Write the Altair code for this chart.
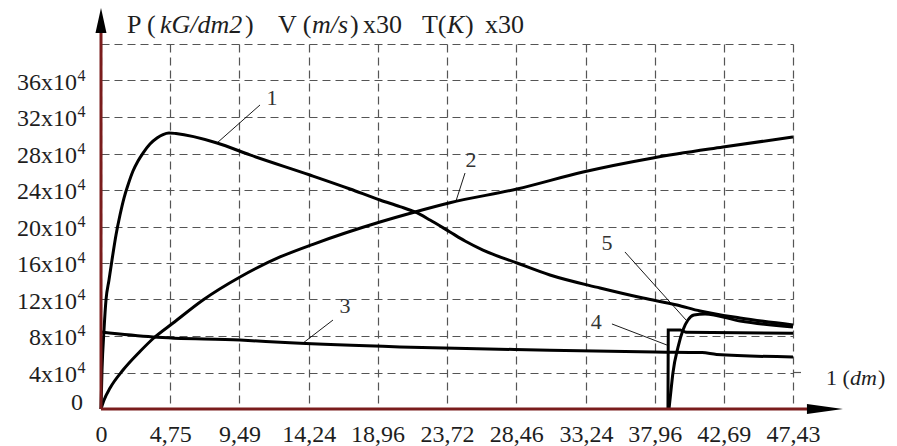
import altair as alt
import pandas as pd

# ---------------- data (x in dm, y in units of 10^4) ----------------
c1_x = [0, 0.069, 0.206, 0.343, 0.548, 0.754, 1.028, 1.302, 1.576, 1.850, 2.193, 2.536,
        2.879, 3.358, 3.838, 4.249, 4.660, 5.140, 7.951, 10.21, 14.32, 17.07, 19.12, 20.49,
        21.52, 22.55, 23.92, 24.95, 26.18, 28.51, 30.77, 34.20, 37.15, 39.48, 41.06, 43.80, 47.43]
c1_y = [0, 4.27, 8.66, 11.95, 14.14, 16.33, 19.07, 21.26, 23.12, 24.55, 26.08, 27.18,
        28.05, 29.04, 29.70, 30.08, 30.25, 30.19, 29.15, 27.84, 25.64, 24.11, 22.90, 22.18,
        21.59, 20.71, 19.40, 18.41, 17.42, 16.0, 14.68, 13.26, 12.16, 11.40, 10.74, 9.97, 9.21]

c2_x = [0, 0.21, 0.62, 1.51, 2.67, 3.56, 4.94, 6.99, 9.53, 12.27, 14.53, 19.12, 21.52,
        23.92, 28.51, 33.04, 37.83, 42.63, 47.43]
c2_y = [0, 0.99, 2.30, 4.27, 6.3, 7.7, 9.42, 11.95, 14.47, 16.66, 18.05, 20.49, 21.59,
        22.6, 24.11, 25.97, 27.51, 28.71, 29.81]

c3_x = [0, 3.56, 9.53, 12.95, 20.49, 30.77, 37.97, 41.2, 42.2, 47.43]
c3_y = [8.44, 7.9, 7.55, 7.25, 6.8, 6.45, 6.25, 6.18, 5.98, 5.7]

c4_x = [38.86, 38.88, 39.7, 40.1, 47.43]
c4_y = [0, 8.66, 8.66, 8.4, 8.3]

c5_x = [38.93, 39.07, 39.20, 39.55, 39.89, 40.23, 40.64, 41.40, 43.80, 47.43]
c5_y = [0, 2.08, 3.95, 6.79, 8.66, 9.75, 10.30, 10.41, 9.64, 8.99]

X_TICKS = [0, 4.75, 9.49, 14.24, 18.96, 23.72, 28.46, 33.24, 37.96, 42.69, 47.43]
Y_TICKS = [0, 4, 8, 12, 16, 20, 24, 28, 32, 36, 40]
Y_LABELS = [4, 8, 12, 16, 20, 24, 28, 32, 36]

# curve labels and leader lines (data coordinates)
lab_text = ["1", "2", "3", "4", "5"]
lab_x = [11.72, 25.36, 16.72, 33.95, 34.68]
lab_y = [34.08, 27.29, 11.29, 9.55, 18.19]
lead_x1 = [10.90, 24.95, 15.90, 35.02, 35.91]
lead_y1 = [33.32, 25.86, 9.75, 9.32, 17.21]
lead_x2 = [7.95, 24.33, 13.85, 38.79, 40.10]
lead_y2 = [29.15, 22.79, 7.23, 7.01, 9.75]

# axis title pieces
title_norm = ["P (", ")", "V (", ")", "x30", "T(", ")", "x30"]
title_norm_x = [1.78, 9.87, 12.13, 17.07, 17.96, 22.00, 24.95, 26.32]
title_ital = ["kG/dm2", "m/s", "K"]
title_ital_x = [4.04, 14.46, 23.72]
TITLE_Y = 41.2

xlab_norm = ["1 (", ")"]
xlab_norm_x = [49.69, 53.26]
xlab_ital = ["dm"]
xlab_ital_x = [51.34]
XLAB_Y = 2.63

# ---------------- build tables ----------------
rows = []
for name, xs_, ys_ in [("1", c1_x, c1_y), ("2", c2_x, c2_y), ("3", c3_x, c3_y), ("5", c5_x, c5_y)]:
    for i, (a, b) in enumerate(zip(xs_, ys_)):
        rows.append({"curve": name, "i": i, "x": a, "y": b})
smooth_df = pd.DataFrame(rows)
c4_df = pd.DataFrame({"x": c4_x, "y": c4_y, "i": list(range(len(c4_x)))})

FONT = "Liberation Serif"
TXT = "#1e1e1e"
RED = "#7a1c1c"

xs = alt.Scale(domain=[0, 47.43], nice=False, zero=False)
ys = alt.Scale(domain=[0, 40], nice=False, zero=False)

x_axis = alt.Axis(values=X_TICKS, title=None, grid=True, gridDash=[8, 5], gridColor="#555",
                  gridWidth=1.2, domain=False, ticks=False, labelFont=FONT, labelFontSize=24,
                  labelColor=TXT, labelPadding=13, labelOverlap=False, labelFlush=False,
                  labelBound=False,
                  labelExpr="datum.value == 0 ? '0' : replace(format(datum.value, '.2f'), '.', ',')")
y_axis = alt.Axis(values=Y_TICKS, title=None, grid=True, gridDash=[8, 5], gridColor="#555",
                  gridWidth=1.2, domain=False, ticks=False, labels=False)

X = alt.X("x:Q", scale=xs, axis=x_axis)
Y = alt.Y("y:Q", scale=ys, axis=y_axis)

curves = alt.Chart(smooth_df).mark_line(color="black", strokeWidth=3, interpolate="monotone").encode(
    x=X, y=Y, detail="curve:N", order="i:Q")
curve4 = alt.Chart(c4_df).mark_line(color="black", strokeWidth=3).encode(x=X, y=Y, order="i:Q")

ext = alt.Chart(pd.DataFrame({"x": [47.43], "x2": [48.11], "y": [4]})).mark_rule(
    color="#555", strokeWidth=1.2, strokeDash=[8, 5]).encode(x=X, x2="x2:Q", y=Y)

axes_df = pd.DataFrame({"x": [0, 0], "x2": [48.39, 0], "y": [0, 0], "y2": [0, 41.2]})
axes_lines = alt.Chart(axes_df).mark_rule(color=RED, strokeWidth=3).encode(
    x=X, x2="x2:Q", y=Y, y2="y2:Q")

arrow_x = alt.Chart(pd.DataFrame({"x": [49.62], "y": [0]})).mark_point(
    shape="M-1,-0.28L1,0L-1,0.28Z", filled=True, size=1296, color="black", opacity=1).encode(x=X, y=Y)
arrow_y = alt.Chart(pd.DataFrame({"x": [0], "y": [42.58]})).mark_point(
    shape="M-0.44,1L0,-1L0.44,1Z", filled=True, size=625, color="black", opacity=1).encode(x=X, y=Y)

# y tick labels as text: "NNx10" with superscript "4"
ylab_df = pd.DataFrame({"x": [-1.645] * len(Y_LABELS), "y": Y_LABELS,
                        "t": [f"{v}x10" for v in Y_LABELS]})
ysup_df = pd.DataFrame({"x": [-1.61] * len(Y_LABELS), "y": Y_LABELS, "t": ["4"] * len(Y_LABELS)})
yzero_df = pd.DataFrame({"x": [-1.23], "y": [0], "t": ["0"]})
ylab = alt.Chart(ylab_df).mark_text(font=FONT, fontSize=24, color=TXT, align="right",
                                    baseline="middle", dy=2).encode(x=X, y=Y, text="t:N")
ysup = alt.Chart(ysup_df).mark_text(font=FONT, fontSize=16, color=TXT, align="left",
                                    baseline="middle", dy=-5).encode(x=X, y=Y, text="t:N")
yzero = alt.Chart(yzero_df).mark_text(font=FONT, fontSize=24, color=TXT, align="right",
                                      baseline="middle", dy=-6).encode(x=X, y=Y, text="t:N")

lead_df = pd.DataFrame({"x": lead_x1, "y": lead_y1, "x2": lead_x2, "y2": lead_y2})
leaders = alt.Chart(lead_df).mark_rule(color="black", strokeWidth=0.9).encode(
    x=X, y=Y, x2="x2:Q", y2="y2:Q")

lab_df = pd.DataFrame({"x": lab_x, "y": lab_y, "t": lab_text})
labels = alt.Chart(lab_df).mark_text(font=FONT, fontSize=22, color="#333", align="center",
                                     baseline="middle").encode(x=X, y=Y, text="t:N")

tn_df = pd.DataFrame({"x": title_norm_x, "y": [TITLE_Y] * len(title_norm_x), "t": title_norm})
ti_df = pd.DataFrame({"x": title_ital_x, "y": [TITLE_Y] * len(title_ital_x), "t": title_ital})
title_n = alt.Chart(tn_df).mark_text(font=FONT, fontSize=26, color=TXT, align="left",
                                     baseline="alphabetic").encode(x=X, y=Y, text="t:N")
title_i = alt.Chart(ti_df).mark_text(font=FONT, fontSize=26, color=TXT, align="left",
                                     baseline="alphabetic", fontStyle="italic").encode(x=X, y=Y, text="t:N")

xn_df = pd.DataFrame({"x": xlab_norm_x, "y": [XLAB_Y] * len(xlab_norm_x), "t": xlab_norm})
xi_df = pd.DataFrame({"x": xlab_ital_x, "y": [XLAB_Y] * len(xlab_ital_x), "t": xlab_ital})
xlab_n = alt.Chart(xn_df).mark_text(font=FONT, fontSize=22, color=TXT, align="left",
                                    baseline="alphabetic").encode(x=X, y=Y, text="t:N")
xlab_i = alt.Chart(xi_df).mark_text(font=FONT, fontSize=22, color=TXT, align="left",
                                    baseline="alphabetic", fontStyle="italic").encode(x=X, y=Y, text="t:N")

chart = alt.layer(curves, curve4, ext, axes_lines, arrow_x, arrow_y, ylab, ysup, yzero,
                  leaders, labels, title_n, title_i, xlab_n, xlab_i).properties(
    width=692, height=365,
    autosize=alt.AutoSizeParams(type="none"),
    padding={"left": 93, "top": 36, "right": 96, "bottom": 37},
    background="white",
).configure_view(stroke=None)

chart.save("out.html", embed_options={"renderer": "svg", "actions": False})
